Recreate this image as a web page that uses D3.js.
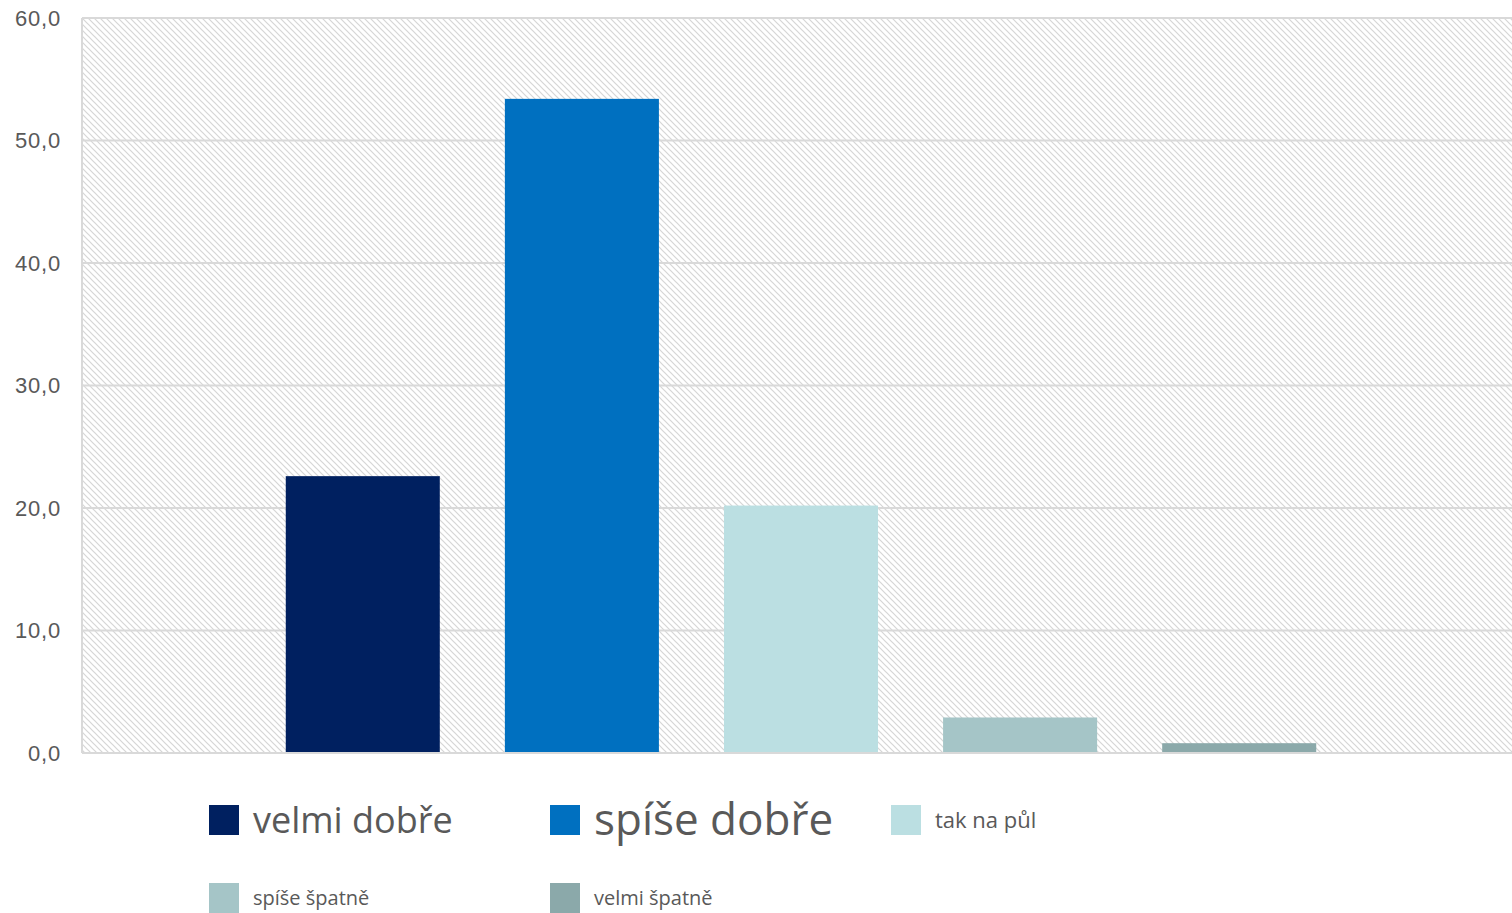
<!DOCTYPE html>
<html>
<head>
<meta charset="utf-8">
<script src="https://cdn.jsdelivr.net/npm/d3@7"></script>
<style>
  body { margin: 0; background: #fff; }
  svg { display: block; }
</style>
</head>
<body>
<div id="chart"></div>
<script>
const seriesNames = ['velmi dobře', 'spíše dobře', 'tak na půl', 'spíše špatně', 'velmi špatně'];
const seriesValues = [22.6, 53.4, 20.2, 2.9, 0.8];
const yTicks = [0, 10, 20, 30, 40, 50, 60];

const colors = ['#002060', '#0070C0', '#BBDFE2', '#A5C5C7', '#8BA9AA'];
const legendFontSizes = [36, 44, 22, 20, 20];

const width = 1512, height = 913;
const margin = {top: 18, right: -8, bottom: 160, left: 82};

const svg = d3.select('#chart').append('svg')
  .attr('width', width)
  .attr('height', height)
  .style('font-family', 'Liberation Sans, Arial, sans-serif');

// hatch background like the excel plot area
const pat = svg.append('defs').append('pattern')
  .attr('id', 'hatch')
  .attr('patternUnits', 'userSpaceOnUse')
  .attr('width', 6)
  .attr('height', 6);
pat.append('rect').attr('width', 6).attr('height', 6).attr('fill', '#fff');
pat.append('path')
  .attr('d', 'M-1,-1L7,7M5,-1L7,1M-1,5L1,7')
  .attr('stroke', '#d6d6d6')
  .attr('stroke-width', 1.2);

const plotW = width - margin.left - margin.right;
const plotH = height - margin.top - margin.bottom;
const g = svg.append('g').attr('transform', 'translate(' + margin.left + ',' + margin.top + ')');

const x = d3.scaleBand()
  .domain(seriesNames)
  .range([0, plotW])
  .paddingInner(0.297)
  .paddingOuter(0.93);

const y = d3.scaleLinear()
  .domain([0, 60])
  .range([plotH, 0]);

g.append('rect')
  .attr('width', plotW)
  .attr('height', plotH)
  .attr('fill', 'url(#hatch)');

// gridlines
g.selectAll('.grid')
  .data(yTicks)
  .enter()
  .append('line')
  .attr('x1', 0)
  .attr('x2', plotW)
  .attr('y1', d => y(d))
  .attr('y2', d => y(d))
  .attr('stroke', '#d9d9d9')
  .attr('stroke-width', 2);

g.append('line')
  .attr('x1', 0).attr('x2', 0)
  .attr('y1', 0).attr('y2', plotH)
  .attr('stroke', '#d9d9d9')
  .attr('stroke-width', 2);

// bars
g.selectAll('.bar')
  .data(seriesNames)
  .enter()
  .append('rect')
  .attr('x', d => x(d))
  .attr('y', (d, i) => y(seriesValues[i]))
  .attr('width', x.bandwidth())
  .attr('height', (d, i) => plotH - y(seriesValues[i]))
  .attr('fill', (d, i) => colors[i]);

g.append('line')
  .attr('x1', 0).attr('x2', plotW)
  .attr('y1', plotH).attr('y2', plotH)
  .attr('stroke', '#d9d9d9')
  .attr('stroke-width', 2);

// y axis labels
const yAxis = g.append('g')
  .call(d3.axisLeft(y).tickValues(yTicks).tickSize(0).tickPadding(21)
    .tickFormat(d => d3.format('.1f')(d).replace('.', ',')));
yAxis.select('.domain').remove();
yAxis.selectAll('text')
  .attr('fill', '#595959')
  .style('font-size', '22px')
  .style('letter-spacing', '0.8px')
  .style('font-family', 'Liberation Sans, Arial, sans-serif');

// legend
const legendPos = [[209, 820], [550, 820], [891, 820], [209, 898], [550, 898]];
const legend = svg.append('g').style('font-family', '"Open Sans", "Noto Sans", sans-serif');
const item = legend.selectAll('.item')
  .data(seriesNames)
  .enter()
  .append('g')
  .attr('transform', (d, i) => 'translate(' + legendPos[i][0] + ',' + legendPos[i][1] + ')');
item.append('rect')
  .attr('x', 0)
  .attr('y', -15)
  .attr('width', 30)
  .attr('height', 30)
  .attr('fill', (d, i) => colors[i]);
item.append('text')
  .attr('x', 44)
  .attr('y', 0)
  .attr('dy', '0.35em')
  .attr('fill', '#595959')
  .style('font-size', (d, i) => legendFontSizes[i] + 'px')
  .text(d => d);
</script>
</body>
</html>
